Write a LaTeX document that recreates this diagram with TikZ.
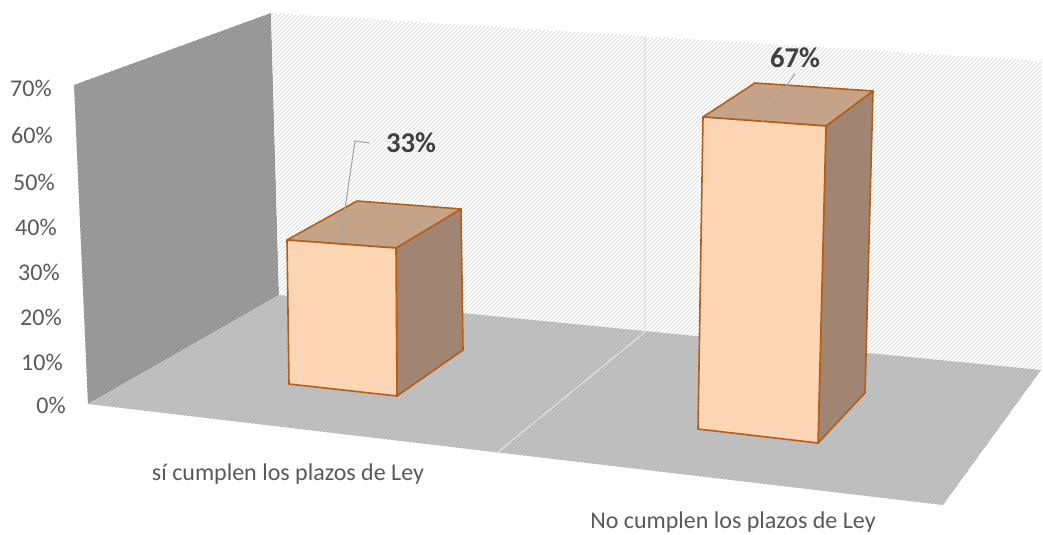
\documentclass[tikz,border=0pt]{standalone}
\usepackage{fontspec}
\setmainfont{Carlito}
\usetikzlibrary{patterns}

\definecolor{sidewall}{RGB}{158,158,158}
\definecolor{sidehatch}{RGB}{135,135,135}
\definecolor{backhatch}{RGB}{212,212,212}
\definecolor{floorgray}{RGB}{196,196,196}
\definecolor{floorhatch}{RGB}{172,172,172}
\definecolor{gridgray}{RGB}{220,220,220}
\definecolor{barfront}{RGB}{252,213,180}
\definecolor{bartop}{RGB}{196,163,136}
\definecolor{barside}{RGB}{160,133,114}
\definecolor{baredge}{RGB}{180,95,25}
\definecolor{leadergray}{RGB}{166,166,166}
\definecolor{axistext}{RGB}{89,89,89}
\definecolor{valtext}{RGB}{64,64,64}

\begin{document}
\begin{tikzpicture}[x=0.75pt, y=-0.75pt,
    wallside/.style={fill=sidewall, postaction={pattern=north east lines, pattern color=sidehatch}},
    wallback/.style={fill=white, postaction={pattern=north east lines, pattern color=backhatch}},
    floorface/.style={fill=floorgray, postaction={pattern=north east lines, pattern color=floorhatch}},
    grid/.style={draw=gridgray, line width=1pt},
    boxfront/.style={fill=barfront, draw=baredge, line width=1.2pt, line join=round},
    boxtop/.style={fill=bartop, draw=baredge, line width=1.2pt, line join=round},
    boxside/.style={fill=barside, draw=baredge, line width=1.2pt, line join=round},
    leader/.style={draw=leadergray, line width=0.8pt},
    axislabel/.style={anchor=east, inner sep=0pt, text=axistext, font=\fontsize{18}{21}\selectfont},
    catlabel/.style={inner sep=0pt, text=axistext, font=\fontsize{18}{21}\selectfont},
    valuelabel/.style={inner sep=0pt, text=valtext, font=\fontsize{21.5}{24}\selectfont\bfseries}]

    \useasboundingbox (0,0) rectangle (1043,535);

    % Walls and floor
    \path [wallside]  (74,85) -- (271,13) -- (279,295) -- (88,404) -- cycle;
    \path [wallback]  (271,13) -- (1041,61) -- (1041,370) -- (279,295) -- cycle;
    \path [floorface] (88,404) -- (279,295) -- (1041,370) -- (943,505) -- cycle;

    % Category gridlines
    \draw [grid] (645,37) -- (645,332) -- (498,452);

    % Bar 1: si cumplen
    \path [boxside]  (396,248) -- (461,209) -- (463,350) -- (397,396) -- cycle;
    \path [boxtop]   (287,240) -- (357,201) -- (461,209) -- (396,248) -- cycle;
    \path [boxfront] (287,240) -- (396,248) -- (397,396) -- (289,384) -- cycle;

    % Bar 2: no cumplen
    \path [boxside]  (826,126) -- (873,91) -- (865,393) -- (818,443) -- cycle;
    \path [boxtop]   (703,117) -- (755,83) -- (873,91) -- (826,126) -- cycle;
    \path [boxfront] (703,117) -- (826,126) -- (818,443) -- (698,429) -- cycle;

    % Value labels
    \node [valuelabel] (v33) at (411,143) {33\%};
    \node [valuelabel] (v67) at (795,58)  {67\%};
    \coordinate (p33) at (340,243);
    \coordinate (p67) at (762,122);
    \draw [leader] (p33) -- (355,141) -- ([xshift=-12pt]v33.west);
    \draw [leader] (p67) -- ([yshift=-4pt]v67.south);

    % Axis labels
    \foreach \v/\x/\y in {0/66/405, 10/63/362, 20/62/317, 30/60/272,
                          40/57/227, 50/55/182, 60/53/135, 70/52/88}
        \node [axislabel] (ax\v) at (\x,\y) {\v\%};

    % Category labels
    \node [catlabel] (cat1) at (288,474) {sí cumplen los plazos de Ley};
    \node [catlabel] (cat2) at (733,522) {No cumplen los plazos de Ley};

\end{tikzpicture}
\end{document}
